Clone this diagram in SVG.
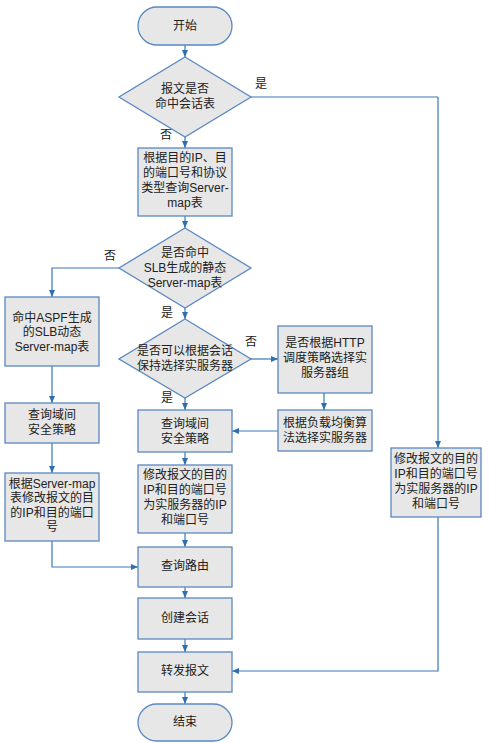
<svg xmlns="http://www.w3.org/2000/svg" width="489" height="743" viewBox="0 0 489 743">
<defs>
<marker id="arr" markerWidth="8" markerHeight="8" refX="7" refY="4" orient="auto" markerUnits="userSpaceOnUse">
<path d="M0,1 L7,4 L0,7 Z" fill="#2f6fb0"/>
</marker>
<style>
.n{fill:#e7e7e7;stroke:#5a88c2;stroke-width:1.3}
.t{font-family:"Liberation Sans","Noto Sans CJK SC",sans-serif;font-size:12px;fill:#222;text-anchor:middle;dominant-baseline:central}
.l{font-family:"Liberation Sans","Noto Sans CJK SC",sans-serif;font-size:12px;fill:#222;text-anchor:middle;dominant-baseline:central}
.c{fill:none;stroke:#3a78b8;stroke-width:1.2;marker-end:url(#arr)}
.c2{fill:none;stroke:#3a78b8;stroke-width:1.2}
</style>
</defs>
<rect width="489" height="743" fill="#fff"/>

<g id="connectors">
<path class="c" d="M185,45 V57"/>
<path class="c" d="M185,137 V148"/>
<path class="c2" d="M251,97 H438"/>
<path class="c" d="M438,97 V448"/>
<path class="c" d="M185,216 V228"/>
<path class="c" d="M119,268 H52 V297"/>
<path class="c" d="M185,308 V319"/>
<path class="c" d="M251,359 H278"/>
<path class="c" d="M324,393 V410"/>
<path class="c" d="M278,431 H232"/>
<path class="c" d="M185,398 V410"/>
<path class="c" d="M52,366 V403"/>
<path class="c" d="M52,443 V473"/>
<path class="c" d="M52,541 V567 H138"/>
<path class="c" d="M185,452 V465"/>
<path class="c" d="M185,533 V547"/>
<path class="c" d="M185,587 V598"/>
<path class="c" d="M185,639 V652"/>
<path class="c" d="M185,692 V704"/>
<path class="c" d="M438,517 V671 H232"/>
<text class="l" x="261" y="84">是</text>
<text class="l" x="166" y="135">否</text>
<text class="l" x="110" y="256">否</text>
<text class="l" x="167" y="313">是</text>
<text class="l" x="251" y="342">否</text>
<text class="l" x="167" y="398">是</text>
</g>

<g id="start">
<rect class="n" x="138" y="7" width="94" height="38" rx="19"/>
<text class="t" x="185" y="26">开始</text>
</g>

<g id="d1">
<polygon class="n" points="185,57 251,97 185,137 119,97"/>
<text class="t" x="185" y="89">报文是否</text>
<text class="t" x="185" y="104">命中会话表</text>
</g>

<g id="b2">
<rect class="n" x="138" y="148" width="94" height="68"/>
<text class="t" x="185" y="158">根据目的IP、目</text>
<text class="t" x="185" y="173">的端口号和协议</text>
<text class="t" x="185" y="188">类型查询Server-</text>
<text class="t" x="185" y="203">map表</text>
</g>

<g id="d2">
<polygon class="n" points="185,228 251,268 185,308 119,268"/>
<text class="t" x="185" y="253">是否命中</text>
<text class="t" x="185" y="268">SLB生成的静态</text>
<text class="t" x="185" y="283">Server-map表</text>
</g>

<g id="b3">
<rect class="n" x="5" y="297" width="94" height="69"/>
<text class="t" x="52" y="318">命中ASPF生成</text>
<text class="t" x="52" y="332">的SLB动态</text>
<text class="t" x="52" y="347">Server-map表</text>
</g>

<g id="d3">
<polygon class="n" points="185,319 251,359 185,398 119,359"/>
<text class="t" x="185" y="351">是否可以根据会话</text>
<text class="t" x="185" y="366">保持选择实服务器</text>
</g>

<g id="b4">
<rect class="n" x="278" y="326" width="94" height="67"/>
<text class="t" x="325" y="343">是否根据HTTP</text>
<text class="t" x="325" y="358">调度策略选择实</text>
<text class="t" x="325" y="373">服务器组</text>
</g>

<g id="b5">
<rect class="n" x="278" y="410" width="94" height="41"/>
<text class="t" x="325" y="423">根据负载均衡算</text>
<text class="t" x="325" y="438">法选择实服务器</text>
</g>

<g id="b6">
<rect class="n" x="138" y="410" width="94" height="42"/>
<text class="t" x="185" y="424">查询域间</text>
<text class="t" x="185" y="439">安全策略</text>
</g>

<g id="b7">
<rect class="n" x="5" y="403" width="94" height="40"/>
<text class="t" x="52" y="415">查询域间</text>
<text class="t" x="52" y="430">安全策略</text>
</g>

<g id="b8">
<rect class="n" x="5" y="473" width="94" height="68"/>
<text class="t" x="52" y="484">根据Server-map</text>
<text class="t" x="52" y="498">表修改报文的目</text>
<text class="t" x="52" y="513">的IP和目的端口</text>
<text class="t" x="52" y="527">号</text>
</g>

<g id="b9">
<rect class="n" x="138" y="465" width="94" height="68"/>
<text class="t" x="185" y="475">修改报文的目的</text>
<text class="t" x="185" y="490">IP和目的端口号</text>
<text class="t" x="185" y="505">为实服务器的IP</text>
<text class="t" x="185" y="520">和端口号</text>
</g>

<g id="b10">
<rect class="n" x="138" y="547" width="94" height="40"/>
<text class="t" x="185" y="566">查询路由</text>
</g>

<g id="b11">
<rect class="n" x="138" y="598" width="94" height="41"/>
<text class="t" x="185" y="618">创建会话</text>
</g>

<g id="b12">
<rect class="n" x="138" y="652" width="94" height="40"/>
<text class="t" x="185" y="671">转发报文</text>
</g>

<g id="end">
<rect class="n" x="138" y="704" width="94" height="37" rx="18.5"/>
<text class="t" x="185" y="722">结束</text>
</g>

<g id="b13">
<rect class="n" x="391" y="448" width="90" height="69"/>
<text class="t" x="436" y="459">修改报文的目的</text>
<text class="t" x="436" y="474">IP和目的端口号</text>
<text class="t" x="436" y="489">为实服务器的IP</text>
<text class="t" x="436" y="504">和端口号</text>
</g>
</svg>
